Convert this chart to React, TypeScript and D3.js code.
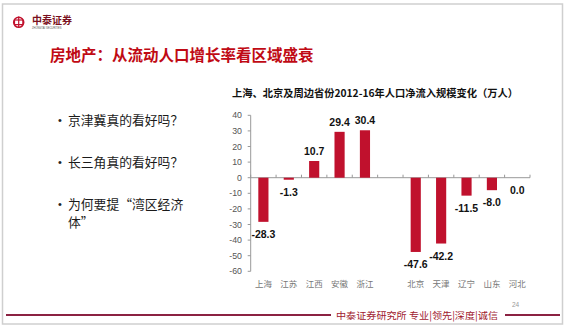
import React from 'react';
import * as d3 from 'd3';

const categories = ['上海', '江苏', '江西', '安徽', '浙江', '', '北京', '天津', '辽宁', '山东', '河北'];
const values: (number | null)[] = [-28.3, -1.3, 10.7, 29.4, 30.4, null, -47.6, -42.2, -11.5, -8.0, 0.0];
const yTicks = [40, 30, 20, 10, 0, -10, -20, -30, -40, -50, -60];
const bullets = [['京津冀真的看好吗？'], ['长三角真的看好吗？'], ['为何要提“湾区经济', '体”']];

const W = 569, H = 332;
const RED = '#c0112d';
const SANS = '"Liberation Sans", Arial, sans-serif';
const CJK = '"Noto Sans CJK SC", sans-serif';

export default function App() {
  const x = d3.scaleBand<string>()
    .domain(categories.map((c, i) => i + ':' + c))
    .range([250.7, 530])
    .paddingInner(0.6)
    .paddingOuter(0.3);
  const y = d3.scaleLinear().domain([-60, 40]).range([271.3, 115.3]);
  const step = x.step();
  const x0 = 250.7;
  const bw = x.bandwidth();

  return (
    <svg width={W} height={H} style={{ position: 'absolute', left: 0, top: 0, background: '#fff' }}>
      <rect x={2.5} y={4} width={560} height={320} fill="#fff" stroke="#cfcfcf" strokeWidth={1.5} />
      {/* logo */}
      <g>
        <circle cx={18.7} cy={22.3} r={5} fill="none" stroke={RED} strokeWidth={1.6} />
        <rect x={14.5} y={20} width={8.4} height={4.6} fill="none" stroke={RED} strokeWidth={1.2} />
        <line x1={18.7} y1={16.5} x2={18.7} y2={28} stroke={RED} strokeWidth={1.2} />
        <text x={32} y={24} fontFamily={CJK} fontWeight={700} fontSize={10} fill="#7a1020">中泰证券</text>
        <text x={32} y={28.5} fontFamily={SANS} fontSize={2.6} fill="#555">ZHONGTAI SECURITIES</text>
      </g>
      <text x={50} y={60.5} fontFamily={CJK} fontWeight={700} fontSize={15.5} fill="#c00a14">房地产：从流动人口增长率看区域盛衰</text>

      {bullets.map((lines, i) => {
        const cy = [120, 162, 204][i];
        return (
          <g key={i}>
            <text x={58} y={cy + 4} fontFamily={SANS} fontSize={11} fill="#222">•</text>
            {lines.map((l, j) => (
              <text key={j} x={68} y={cy + 4.5 + j * 18.8} fontFamily={CJK} fontSize={12.8} fill="#1a1a1a">{l}</text>
            ))}
          </g>
        );
      })}

      <text x={232} y={97} fontFamily={CJK} fontWeight={700} fontSize={10.4} fill="#111" textLength={286} lengthAdjust="spacingAndGlyphs">上海、北京及周边省份2012-16年人口净流入规模变化（万人）</text>

      {/* y axis */}
      <line x1={x0} x2={x0} y1={y(40)} y2={y(-60)} stroke="#999" strokeWidth={1} />
      {yTicks.map(t => (
        <g key={t}>
          <line x1={x0 - 3} x2={x0} y1={y(t)} y2={y(t)} stroke="#999" />
          <text x={242} y={y(t) + 3} textAnchor="end" fontFamily={SANS} fontSize={8.8} fill="#555">{t}</text>
        </g>
      ))}
      {/* x axis */}
      <line x1={x0} x2={530} y1={y(0)} y2={y(0)} stroke="#999" />
      {d3.range(categories.length + 1).map(i => (
        <line key={i} x1={x0 + i * step} x2={x0 + i * step} y1={y(0)} y2={y(0) - 3} stroke="#999" />
      ))}

      {categories.map((c, i) => {
        const v = values[i];
        const key = i + ':' + c;
        const bx = x(key)!;
        const cx = bx + bw / 2;
        return (
          <g key={key}>
            {v !== null && v !== 0 && (
              <rect x={bx} width={bw} y={y(Math.max(0, v))} height={Math.abs(y(v) - y(0))} fill={RED} />
            )}
            {v !== null && (
              <text x={cx} y={v > 0 ? y(v) - 6 : y(v) + 16} textAnchor="middle" fontFamily={SANS} fontWeight={700} fontSize={10.5} fill="#111">{v.toFixed(1)}</text>
            )}
            {c && (
              <text x={cx} y={286.5} textAnchor="middle" fontFamily={CJK} fontSize={8.5} fill="#777">{c}</text>
            )}
          </g>
        );
      })}

      {/* footer */}
      <line x1={6} x2={331} y1={315} y2={315} stroke="#8b2242" strokeWidth={2} />
      <line x1={505} x2={560} y1={315} y2={315} stroke="#8b2242" strokeWidth={2} />
      <text x={336} y={318.5} fontFamily={CJK} fontSize={9.5} fill="#a0182e" textLength={162} lengthAdjust="spacingAndGlyphs">中泰证券研究所 专业|领先|深度|诚信</text>
      <text x={512} y={307} fontFamily={SANS} fontSize={6.5} fill="#999">24</text>
    </svg>
  );
}
